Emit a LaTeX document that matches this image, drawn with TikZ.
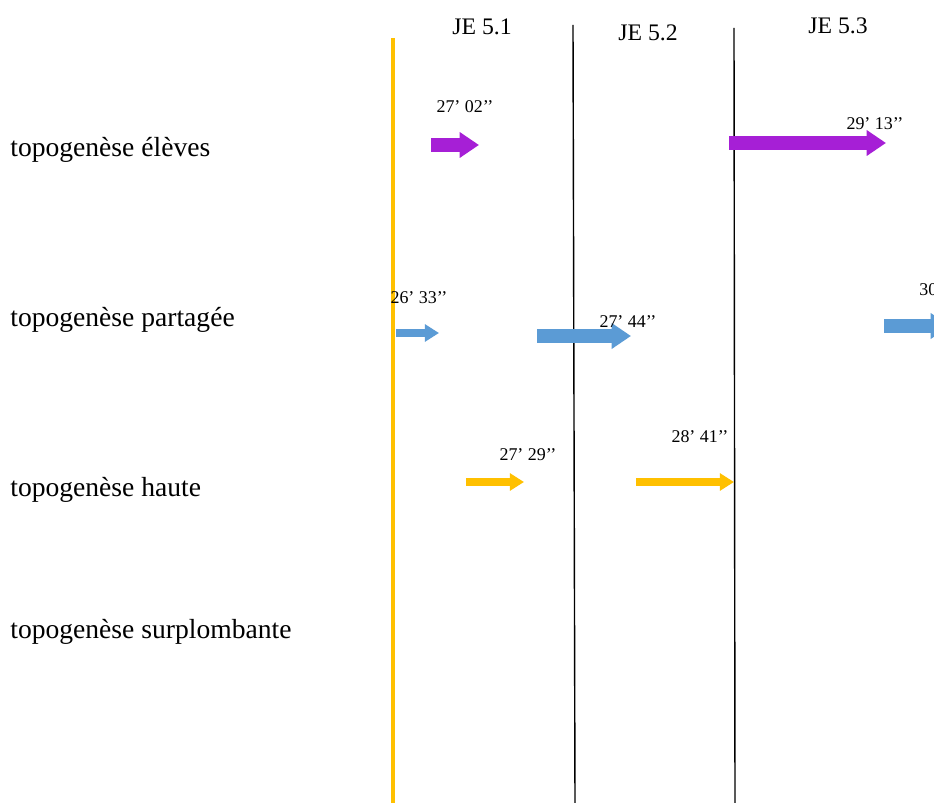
\documentclass[tikz,border=0pt]{standalone}
\usepackage{fontspec}
\setmainfont{Liberation Serif}
\usetikzlibrary{arrows.meta}

\begin{document}
\begin{tikzpicture}[
    x=0.02cm, y=-0.02cm,
    rowlabel/.style={anchor=west, inner sep=0pt, font=\fontsize{15.7}{17}\selectfont},
    session/.style={inner sep=0pt, font=\fontsize{13.5}{15}\selectfont},
    stamp/.style={inner sep=0pt, font=\fontsize{10.2}{12}\selectfont},
    bigarrow/.style={line width=8pt, -{Triangle[length=11pt, width=14pt]}},
    smallarrow/.style={line width=4.5pt, -{Triangle[length=8pt, width=9.5pt]}}
]
\definecolor{violette}{HTML}{A61FD6}
\definecolor{bleu}{HTML}{5B9BD5}
\definecolor{orangejaune}{HTML}{FFC000}

\useasboundingbox (0,0) rectangle (934,803);
\clip (0,0) rectangle (934,803);

% separateurs
\coordinate (start top) at (393,38);
\coordinate (start bot) at (393,803);
\coordinate (sep1 top) at (573,25);
\coordinate (sep1 bot) at (575,803);
\coordinate (sep2 top) at (734,28);
\coordinate (sep2 bot) at (735,803);
\draw[orangejaune, line width=2.4pt] (start top) -- (start bot);
\draw[line width=0.8pt] (sep1 top) -- (sep1 bot);
\draw[line width=0.8pt] (sep2 top) -- (sep2 bot);

\node[session] (je1) at (482,27) {JE 5.1};
\node[session] (je2) at (648,33) {JE 5.2};
\node[session] (je3) at (838,26) {JE 5.3};

\node[rowlabel] (eleves) at (10,150) {topogenèse élèves};
\node[rowlabel] (partagee) at (10,320) {topogenèse partagée};
\node[rowlabel] (haute) at (10,490) {topogenèse haute};
\node[rowlabel] (surplomb) at (10,632) {topogenèse surplombante};

% eleves
\coordinate (e1a) at (431,145);
\coordinate (e1b) at (479,145);
\coordinate (e2a) at (729,143);
\coordinate (e2b) at (886,143);
\draw[bigarrow, violette] (e1a) -- (e1b);
\draw[bigarrow, violette] (e2a) -- (e2b);
\node[stamp] (t1) at (465,107) {27’ 02’’};
\node[stamp] (t2) at (875,124) {29’ 13’’};

% partagee
\coordinate (p1a) at (396,333);
\coordinate (p1b) at (439,333);
\coordinate (p2a) at (537,336);
\coordinate (p2b) at (631,336);
\coordinate (p3a) at (884,326);
\coordinate (p3b) at (950,326);
\draw[smallarrow, bleu] (p1a) -- (p1b);
\draw[bigarrow, bleu] (p2a) -- (p2b);
\draw[bigarrow, bleu] (p3a) -- (p3b);
\node[stamp] (t3) at (419,298) {26’ 33’’};
\node[stamp] (t4) at (628,322) {27’ 44’’};
\node[stamp, anchor=west] (t5) at (919,290) {30’ 00’’};

% haute
\coordinate (h1a) at (466,482);
\coordinate (h1b) at (524,482);
\coordinate (h2a) at (636,482);
\coordinate (h2b) at (734,482);
\draw[smallarrow, orangejaune] (h1a) -- (h1b);
\draw[smallarrow, orangejaune] (h2a) -- (h2b);
\node[stamp] (t6) at (528,455) {27’ 29’’};
\node[stamp] (t7) at (700,437) {28’ 41’’};
\end{tikzpicture}
\end{document}
